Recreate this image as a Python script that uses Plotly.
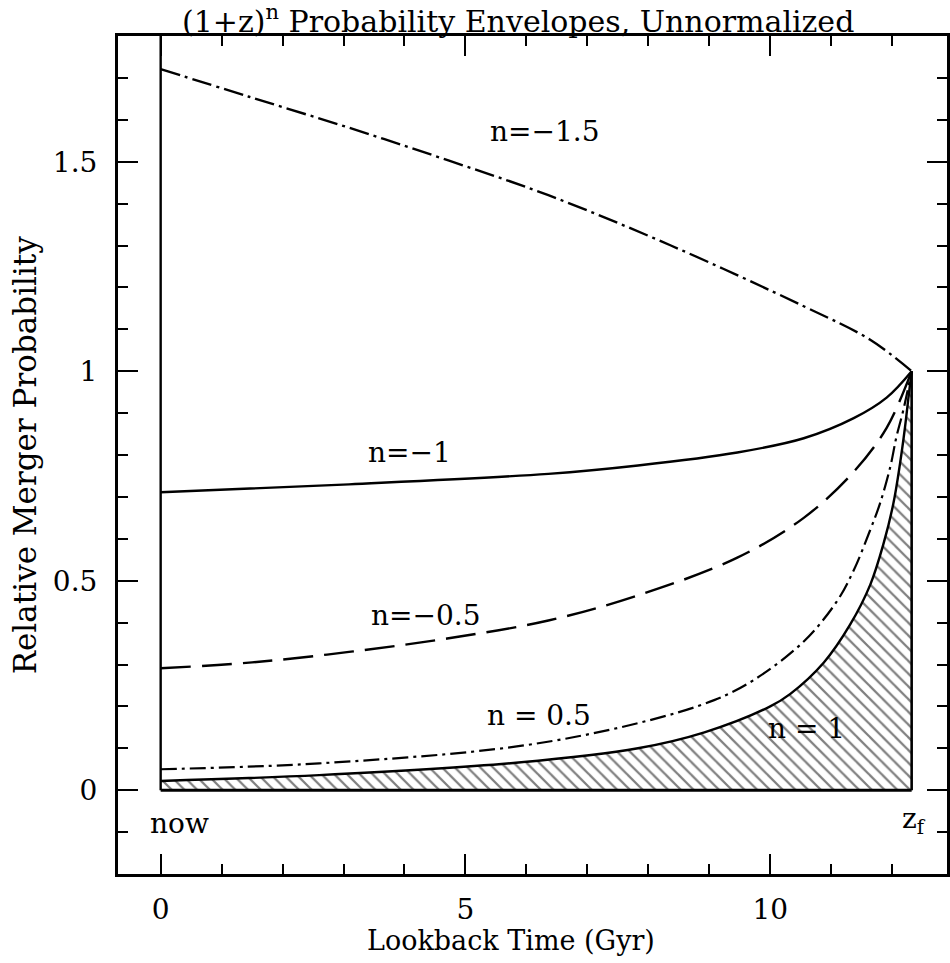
import plotly.graph_objects as go

# ---- data ----
x_m15 = [0, 1.45, 3.09, 4.72, 6.36, 8.37, 10.55, 11.64, 12.32]
y_m15 = [1.721, 1.655, 1.581, 1.503, 1.420, 1.300, 1.155, 1.075, 1.0]

x_m10 = [0, 3.09, 6.36, 7.83, 9.46, 10.55, 11.37, 11.91, 12.32]
y_m10 = [0.711, 0.730, 0.755, 0.775, 0.806, 0.840, 0.888, 0.937, 1.0]

x_m05 = [0, 1.5, 3.09, 4.7, 6.36, 7.83, 9.46, 10.55, 11.37, 11.91, 12.32]
y_m05 = [0.291, 0.305, 0.330, 0.362, 0.405, 0.465, 0.555, 0.650, 0.760, 0.865, 1.0]

x_p05 = [0, 2.60, 5.87, 7.83, 9.08, 9.73, 10.55, 11.09, 11.37, 11.64, 11.80, 11.97, 12.07, 12.18, 12.32]
y_p05 = [0.050, 0.064, 0.105, 0.160, 0.215, 0.263, 0.355, 0.450, 0.525, 0.621, 0.684, 0.772, 0.843, 0.905, 1.0]

x_p10 = [0, 2.60, 5.87, 7.83, 8.92, 10.0, 10.33, 10.88, 11.31, 11.64, 11.86, 12.02, 12.13, 12.21, 12.27, 12.32]
y_p10 = [0.022, 0.036, 0.066, 0.100, 0.138, 0.200, 0.230, 0.305, 0.395, 0.490, 0.589, 0.684, 0.780, 0.865, 0.940, 1.0]

x_end = 12.32
x_ticks = [0, 5, 10]
x_ticktext = ["0", "5", "10"]
y_ticks = [0, 0.5, 1, 1.5]
y_ticktext = ["0", "0.5", "1", "1.5"]

labels = ["n=\u22121.5", "n=\u22121", "n=\u22120.5", "n = 0.5", "n = 1"]
label_x = [6.29, 4.08, 4.35, 6.21, 10.59]
label_y = [1.571, 0.807, 0.418, 0.179, 0.148]

FONT = "DejaVu Serif"
SM = 1.0
fig = go.Figure()

# hatched area under n=1
fig.add_trace(go.Scatter(
    x=x_p10, y=y_p10, mode="lines", line=dict(color="black", width=2.4, shape="spline", smoothing=SM),
    fill="tozeroy", fillcolor="rgba(0,0,0,0)",
    fillpattern=dict(shape="\\", size=9, solidity=0.25, fgcolor="black", bgcolor="white"),
    showlegend=False, hoverinfo="skip"))

fig.add_trace(go.Scatter(x=x_m15, y=y_m15, mode="lines",
                         line=dict(color="black", width=2.4, dash="20px,5px,3px,5px", shape="spline", smoothing=SM),
                         showlegend=False))
fig.add_trace(go.Scatter(x=x_m10, y=y_m10, mode="lines",
                         line=dict(color="black", width=2.4, shape="spline", smoothing=SM),
                         showlegend=False))
fig.add_trace(go.Scatter(x=x_m05, y=y_m05, mode="lines",
                         line=dict(color="black", width=2.4, dash="30px,11px", shape="spline", smoothing=SM),
                         showlegend=False))
fig.add_trace(go.Scatter(x=x_p05, y=y_p05, mode="lines",
                         line=dict(color="black", width=2.2, dash="16px,5px,3px,5px", shape="spline", smoothing=SM),
                         showlegend=False))

# verticals and baseline
fig.add_trace(go.Scatter(x=[0, 0], y=[0, 1.8], mode="lines", line=dict(color="black", width=2.4), showlegend=False))
fig.add_trace(go.Scatter(x=[x_end, x_end], y=[0, 1.0], mode="lines", line=dict(color="black", width=2.6), showlegend=False))
fig.add_trace(go.Scatter(x=[0, x_end], y=[0, 0], mode="lines", line=dict(color="black", width=3), showlegend=False))

for t, lx, ly in zip(labels, label_x, label_y):
    fig.add_annotation(x=lx, y=ly, text=t, showarrow=False, font=dict(family=FONT, size=28, color="black"),
                       xanchor="center", yanchor="middle")

fig.add_annotation(x=0.31, y=-0.079, text="now", showarrow=False,
                   font=dict(family=FONT, size=28, color="black"))
fig.add_annotation(x=12.36, y=-0.072, text="z<sub>f</sub>", showarrow=False,
                   font=dict(family=FONT, size=28, color="black"))

# title and axis titles
fig.add_annotation(xref="paper", yref="paper", x=0.482, y=1.0195, text="(1+z)<sup>n</sup> Probability Envelopes, Unnormalized",
                   showarrow=False, font=dict(family=FONT, size=30, color="black"), xanchor="center", yanchor="middle")
fig.add_annotation(xref="paper", yref="paper", x=0.4736, y=-0.0788, text="Lookback Time (Gyr)",
                   showarrow=False, font=dict(family=FONT, size=27, color="black"), xanchor="center", yanchor="middle")
fig.add_annotation(xref="paper", yref="paper", x=-0.1118, y=0.5, text="Relative Merger Probability", textangle=-90,
                   showarrow=False, font=dict(family=FONT, size=31, color="black"), xanchor="center", yanchor="middle")

axis_common = dict(showline=True, linecolor="black", linewidth=3, mirror="allticks",
                   ticks="inside", ticklen=20, tickwidth=2, tickcolor="black",
                   showgrid=False, zeroline=False,
                   tickfont=dict(family=FONT, size=28, color="black"))

fig.update_xaxes(range=[-0.7, 12.9], tickvals=x_ticks, ticktext=x_ticktext,
                 minor=dict(dtick=1, tick0=0, ticks="inside", ticklen=10, tickwidth=2, tickcolor="black", showgrid=False),
                 ticklabelstandoff=8, **axis_common)
fig.update_yaxes(range=[-0.2, 1.8], tickvals=y_ticks, ticktext=y_ticktext,
                 minor=dict(dtick=0.1, tick0=0, ticks="inside", ticklen=10, tickwidth=2, tickcolor="black", showgrid=False),
                 ticklabelstandoff=12, **axis_common)

fig.update_layout(width=950, height=963, margin=dict(l=118, r=0, t=36, b=89),
                  plot_bgcolor="white", paper_bgcolor="white", showlegend=False)

fig.write_html("out.html")
